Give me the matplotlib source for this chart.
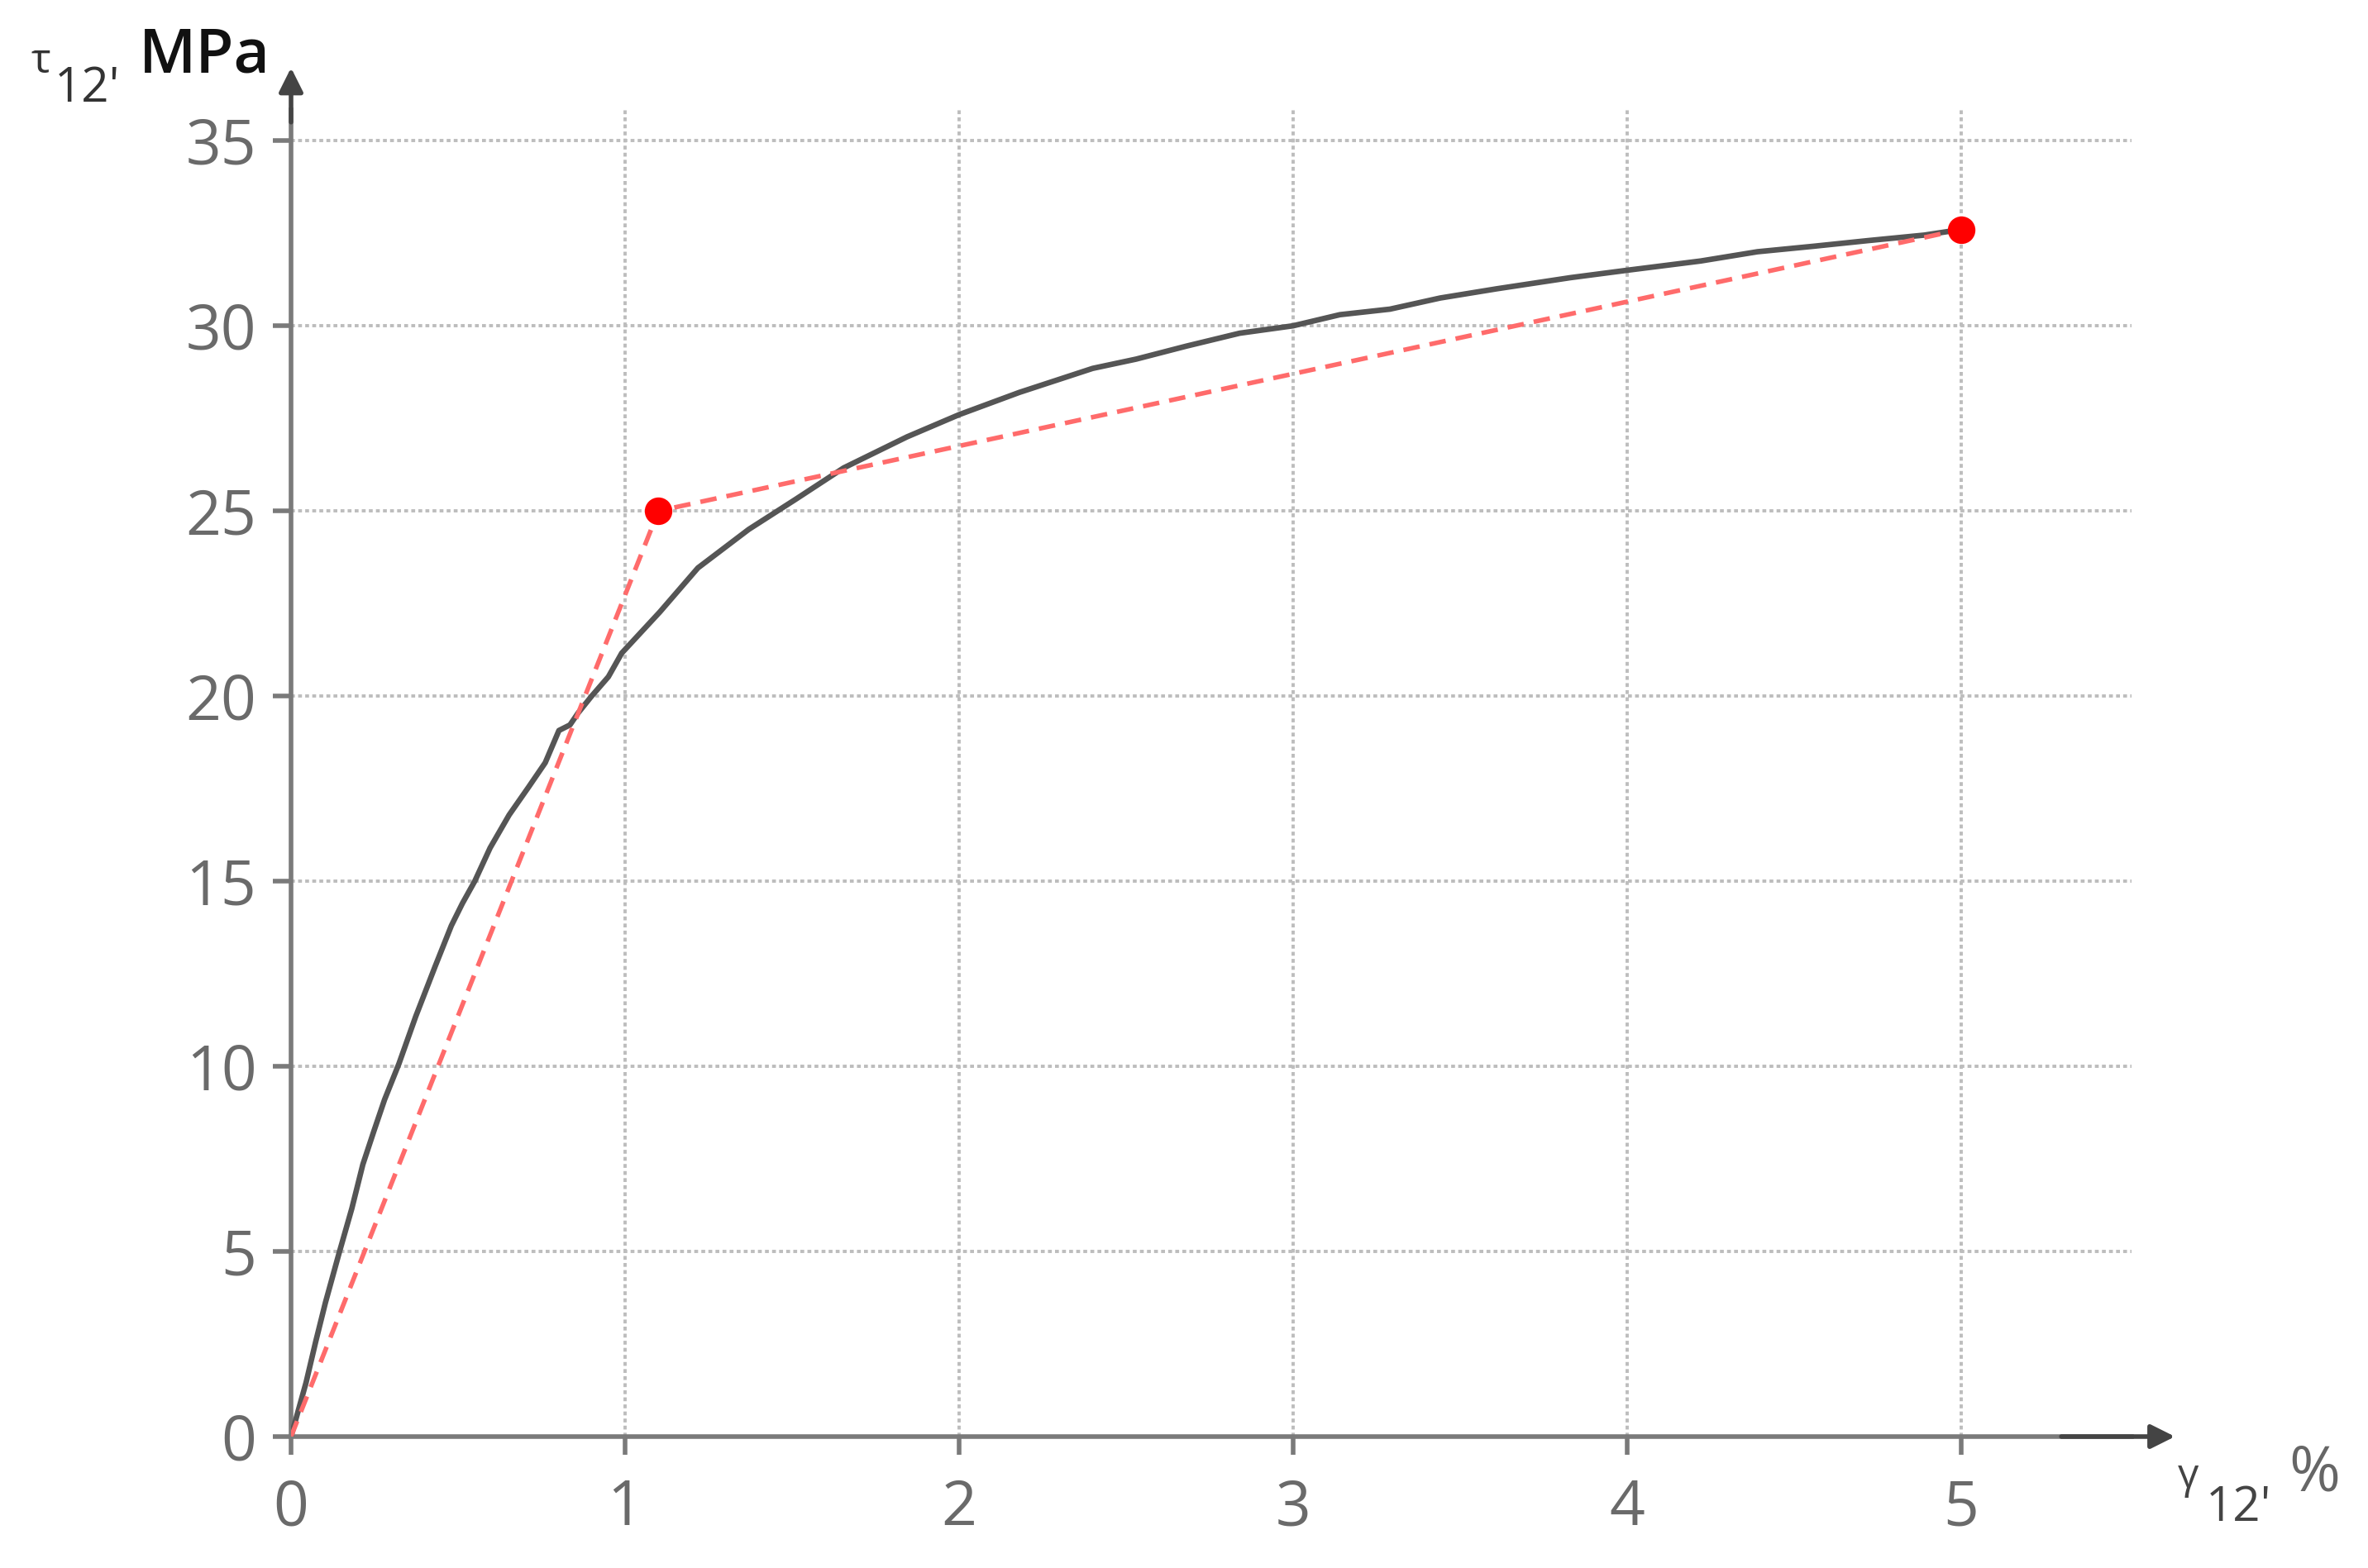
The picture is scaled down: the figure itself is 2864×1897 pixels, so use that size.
import numpy as np
import matplotlib
matplotlib.use("Agg")
import matplotlib.pyplot as plt

# shear stress-strain curve
strain = [0, 0.045, 0.074, 0.103, 0.144, 0.182, 0.215, 0.248, 0.28, 0.323, 0.373,
          0.431, 0.48, 0.513, 0.55, 0.596, 0.653, 0.711, 0.761, 0.802, 0.835, 0.86,
          0.90, 0.95, 0.99, 1.104, 1.218, 1.37, 1.51, 1.654, 1.844, 2.00, 2.18,
          2.40, 2.53, 2.68, 2.84, 3.00, 3.14, 3.29, 3.44, 3.61, 3.83, 4.00, 4.22,
          4.39, 4.56, 4.72, 4.89, 5.00]
stress = [0, 1.46, 2.57, 3.62, 4.96, 6.16, 7.35, 8.25, 9.1, 10.07, 11.34,
          12.69, 13.8, 14.4, 15.0, 15.9, 16.79, 17.54, 18.2, 19.07, 19.22, 19.55,
          20.0, 20.52, 21.16, 22.27, 23.46, 24.5, 25.31, 26.16, 27.0, 27.6, 28.2,
          28.85, 29.1, 29.45, 29.8, 30.0, 30.3, 30.45, 30.75, 31.0, 31.3, 31.5, 31.75,
          32.0, 32.15, 32.3, 32.45, 32.6]

# bilinear approximation
bilin_x = [0, 1.1, 5.0]
bilin_y = [0, 25.0, 32.6]

xticks = [0, 1, 2, 3, 4, 5]
yticks = [0, 5, 10, 15, 20, 25, 30, 35]

W, H = 2864, 1897
DPI = 200
plt.rcParams['font.family'] = ['Open Sans', 'DejaVu Sans']

fig = plt.figure(figsize=(W / DPI, H / DPI), dpi=DPI)
ax = fig.add_axes([352 / W, 1 - 1738 / H, (2578 - 352) / W, (1738 - 133) / H])
ax.set_xlim(0, 5.51)
ax.set_ylim(0, 35.83)

ax.grid(True, color='#bdbdbd', linestyle=(0, (1.2, 1.0)), linewidth=1.4)
ax.set_axisbelow(True)
ax.set_xticks(xticks)
ax.set_yticks(yticks)
ax.tick_params(direction='out', length=8, width=2, color='#7a7a7a',
               labelsize=27, labelcolor='#6a6a6a')
ax.tick_params(axis='y', pad=7)
ax.tick_params(axis='x', pad=10)

for s in ['top', 'right']:
    ax.spines[s].set_visible(False)
for s in ['left', 'bottom']:
    ax.spines[s].set_color('#7a7a7a')
    ax.spines[s].set_linewidth(2.0)

ax.plot(strain, stress, color='#555555', linewidth=2.4, solid_joinstyle='round',
        solid_capstyle='round', zorder=3)
ax.plot(bilin_x, bilin_y, color='#ff6b6b', linewidth=2.0, dashes=(3.6, 2.2), zorder=4)
ax.plot(bilin_x[1:], bilin_y[1:], 'o', color='#ff0000', markersize=11, zorder=5)

# axis arrows
ax.annotate('', xy=(5.64, 0), xytext=(5.3, 0), annotation_clip=False,
            arrowprops=dict(arrowstyle='-|>', color='#444444', lw=2.0,
                            mutation_scale=22, shrinkA=0, shrinkB=0))
ax.annotate('', xy=(0, 36.97), xytext=(0, 35.5), annotation_clip=False,
            arrowprops=dict(arrowstyle='-|>', color='#444444', lw=2.0,
                            mutation_scale=22, shrinkA=0, shrinkB=0))

# axis captions
def ftxt(x, y, s, **kw):
    fig.text(x / W, 1 - y / H, s, **kw)

ftxt(37, 88, 'τ', fontsize=18, color='#333333', va='baseline')
ftxt(66, 123, "12'", fontsize=21, color='#333333', va='baseline')
ftxt(168, 87, 'MPa', fontsize=27, color='#111111', fontweight='semibold', va='baseline')

ftxt(2634, 1800, 'γ', fontsize=18, color='#444444', va='baseline')
ftxt(2668, 1840, "12'", fontsize=21, color='#444444', va='baseline')
ftxt(2768, 1803, '%', fontsize=27, color='#666666', va='baseline')

fig.savefig('out.png', dpi=DPI, facecolor='white')
